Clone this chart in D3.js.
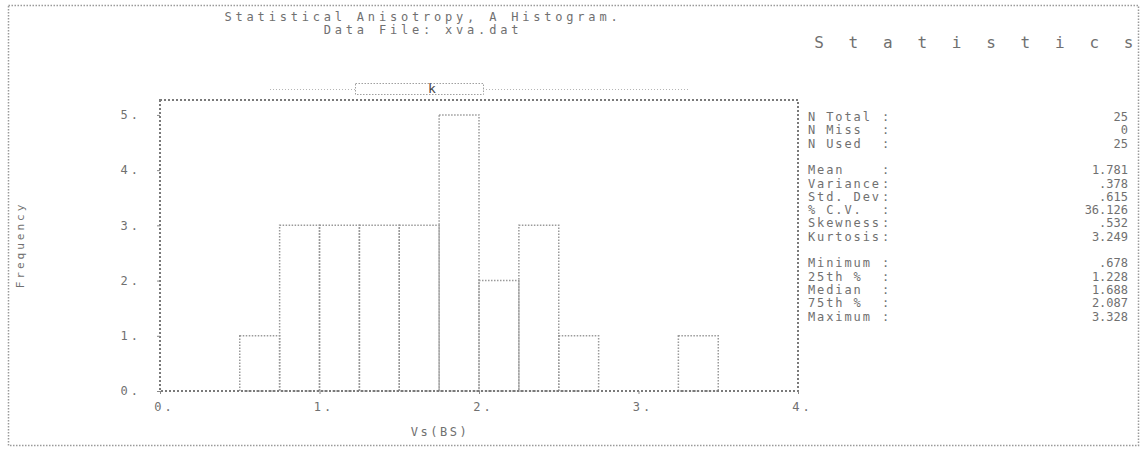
<!DOCTYPE html>
<html>
<head>
<meta charset="utf-8">
<script src="https://cdn.jsdelivr.net/npm/d3@7"></script>
<style>
  html, body { margin: 0; padding: 0; background: #fff; }
  svg text { font-family: "DejaVu Sans Mono", "Liberation Mono", monospace; fill: #707070; }
</style>
</head>
<body>
<svg id="chart" width="1142" height="449"></svg>
<script>
// histogram data (bin left edges, bin width 0.25)
const binStarts = [0.5, 0.75, 1.0, 1.25, 1.5, 1.75, 2.0, 2.25, 2.5, 2.75, 3.0, 3.25];
const counts = [1, 3, 3, 3, 3, 5, 2, 3, 1, 0, 0, 1];
const binWidth = 0.25;

const xTicks = [0, 1, 2, 3, 4];
const yTicks = [0, 1, 2, 3, 4, 5];

const titleLines = ["Statistical Anisotropy, A Histogram.", "Data File: xva.dat"];
const xLabel = "Vs(BS)";
const yLabel = "Frequency";

// statistics panel
const statsTitle = "Statistics";
const statLabels = ["N Total", "N Miss", "N Used", "", "Mean", "Variance", "Std. Dev", "% C.V.", "Skewness", "Kurtosis", "", "Minimum", "25th %", "Median", "75th %", "Maximum"];
const statValues = ["25", "0", "25", "", "1.781", ".378", ".615", "36.126", ".532", "3.249", "", ".678", "1.228", "1.688", "2.087", "3.328"];

const svg = d3.select("#chart");
const margin = {left: 160, right: 344, top: 100, bottom: 58};
const width = 1142 - margin.left - margin.right;
const height = 449 - margin.top - margin.bottom;

// outer dotted border
svg.append("rect")
  .attr("x", 8.5).attr("y", 5.5)
  .attr("width", 1130).attr("height", 440)
  .attr("fill", "none")
  .attr("stroke", "#9a9a9a")
  .attr("stroke-width", 1.5)
  .attr("stroke-dasharray", "1.5,1.5");

// titles
svg.selectAll("text.title")
  .data(titleLines)
  .enter()
  .append("text")
  .attr("class", "title")
  .attr("x", 423)
  .attr("y", (d, i) => 21 + i * 13)
  .attr("text-anchor", "middle")
  .style("font-size", "12px")
  .style("letter-spacing", "3.8px")
  .text(d => d);

const g = svg.append("g")
  .attr("transform", "translate(" + margin.left + "," + margin.top + ")");

const x = d3.scaleLinear().domain([0, 4]).range([0, width]);
const y = d3.scaleLinear().domain([0, 5.27]).range([height, 0]);

// slider-like gadget above the plot
const gadget = svg.append("g");
gadget.append("line")
  .attr("x1", 270).attr("x2", 690).attr("y1", 89.5).attr("y2", 89.5)
  .attr("stroke", "#b5b5b5").attr("stroke-dasharray", "1,2");
gadget.append("rect")
  .attr("x", 355.5).attr("y", 83.5).attr("width", 128).attr("height", 11)
  .attr("fill", "#fff").attr("stroke", "#a0a0a0").attr("stroke-dasharray", "1.5,1.5");
gadget.append("text")
  .attr("x", 432).attr("y", 93)
  .attr("text-anchor", "middle")
  .style("font-size", "13px")
  .style("fill", "#444")
  .text("k");

// bars
g.selectAll("rect.bar")
  .data(counts.map((c, i) => ({start: binStarts[i], count: c})).filter(d => d.count > 0))
  .enter()
  .append("rect")
  .attr("class", "bar")
  .attr("x", d => x(d.start))
  .attr("y", d => y(d.count))
  .attr("width", d => x(d.start + binWidth) - x(d.start))
  .attr("height", d => y(0) - y(d.count))
  .attr("fill", "none")
  .attr("stroke", "#9a9a9a")
  .attr("stroke-width", 1.5)
  .attr("stroke-dasharray", "1.5,1.5");

// plot frame
g.append("rect")
  .attr("x", 0).attr("y", 0)
  .attr("width", width).attr("height", height)
  .attr("fill", "none")
  .attr("stroke", "#7a7a7a")
  .attr("stroke-width", 2)
  .attr("stroke-dasharray", "2,2");

// x axis
const xAxis = g.append("g")
  .attr("transform", "translate(0," + height + ")")
  .call(d3.axisBottom(x).tickValues(xTicks).tickFormat(d => d + ".").tickSize(3).tickPadding(8));
xAxis.select(".domain").remove();
xAxis.selectAll("line").attr("stroke", "#888");
xAxis.selectAll("text")
  .style("font-size", "12px")
  .style("letter-spacing", "3px")
  .attr("dx", "4")
  .attr("fill", null);

// y axis
const yAxis = g.append("g")
  .call(d3.axisLeft(y).tickValues(yTicks).tickFormat(d => d + ".").tickSize(3).tickPadding(16));
yAxis.select(".domain").remove();
yAxis.selectAll("line").attr("stroke", "#888");
yAxis.selectAll("text")
  .style("font-size", "12px")
  .style("letter-spacing", "3px")
  .attr("fill", null);

// axis labels
svg.append("text")
  .attr("x", 440).attr("y", 436)
  .attr("text-anchor", "middle")
  .style("font-size", "12px")
  .style("letter-spacing", "2.5px")
  .text(xLabel);

svg.append("text")
  .attr("transform", "translate(24,245) rotate(-90)")
  .attr("text-anchor", "middle")
  .style("font-size", "11px")
  .style("letter-spacing", "3px")
  .text(yLabel);

// statistics panel title, one letter per slot
svg.selectAll("text.stitle")
  .data(statsTitle.split(""))
  .enter()
  .append("text")
  .attr("class", "stitle")
  .attr("x", (d, i) => 819 + i * 34.4)
  .attr("y", 48)
  .attr("text-anchor", "middle")
  .style("font-size", "16px")
  .text(d => d);

const rows = svg.append("g");
statLabels.forEach((lab, i) => {
  if (!lab) return;
  const yy = 121 + i * 13.3;
  rows.append("text")
    .attr("x", 808).attr("y", yy)
    .style("font-size", "12px")
    .style("letter-spacing", "1.9px")
    .text(lab);
  rows.append("text")
    .attr("x", 882).attr("y", yy)
    .style("font-size", "12px")
    .text(":");
  rows.append("text")
    .attr("x", 1128).attr("y", yy)
    .attr("text-anchor", "end")
    .style("font-size", "12px")
    .text(statValues[i]);
});
</script>
</body>
</html>
